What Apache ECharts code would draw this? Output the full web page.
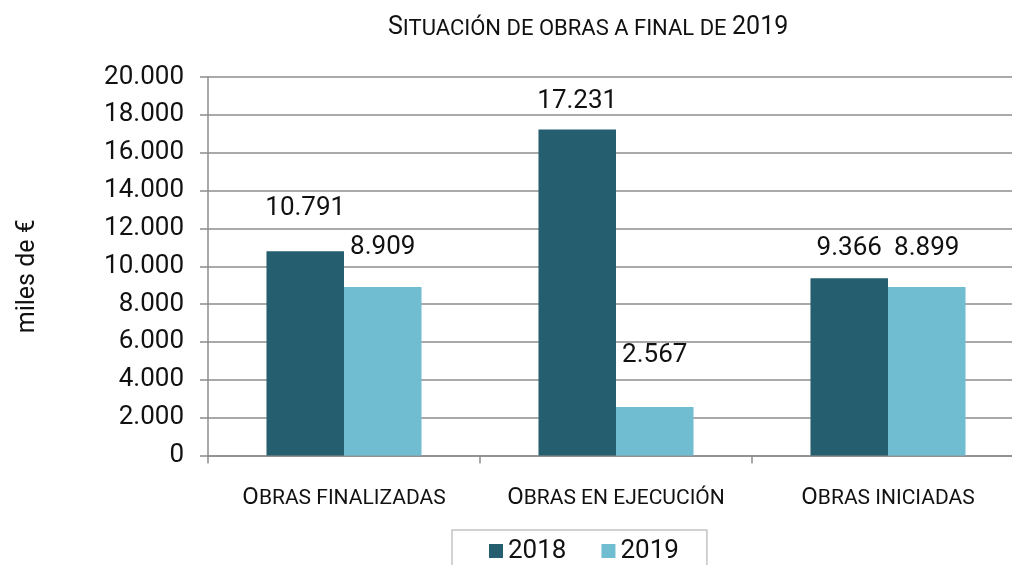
<!DOCTYPE html>
<html>
<head>
<meta charset="utf-8">
<script src="https://cdn.jsdelivr.net/npm/echarts@6/dist/echarts.min.js"></script>
<style>
  html, body { margin: 0; padding: 0; background: #fff; }
  #chart { width: 1012px; height: 565px; }
</style>
</head>
<body>
<div id="chart"></div>
<script>
// Chart data
const chartTitle = 'Situación de obras a final de 2019';
const categories = ['Obras finalizadas', 'Obras en ejecución', 'Obras iniciadas'];
const seriesNames = ['2018', '2019'];
const values2018 = [10791, 17231, 9366];
const values2019 = [8909, 2567, 8899];
const yAxisName = 'miles de €';

// Distance (px) from each bar's top to the centre of its value label
const labelLift2018 = [43, 28, 30];
const labelLift2019 = [39, 51, 39];

const FONT = 'Roboto';
const INK = '#111111';
const GRID_GREY = '#8c8c8c';
const NUM_SIZE = 26;
const LABEL_LINE = 28;

// Spanish thousands separator: 17231 -> "17.231"
function fmt(v) {
  return String(v).replace(/\B(?=(\d{3})+(?!\d))/g, '.');
}

// Small-caps emulation with rich text: capitals and digits full size,
// lowercase letters drawn as smaller capitals.
function smallCaps(text, bigKey, smallKey) {
  let out = '';
  let run = '';
  let runKey = null;
  for (const ch of text) {
    const isBig = ch !== ch.toLowerCase() || /\d/.test(ch);
    const key = isBig ? bigKey : smallKey;
    const c = isBig ? ch : ch.toUpperCase();
    if (runKey !== null && key !== runKey) {
      out += '{' + runKey + '|' + run + '}';
      run = '';
    }
    runKey = key;
    run += c;
  }
  if (run) out += '{' + runKey + '|' + run + '}';
  return out;
}

function capsStyles(bigSize, smallSize) {
  return {
    big: { fontFamily: FONT, fontSize: bigSize, lineHeight: bigSize, color: INK, verticalAlign: 'bottom' },
    small: { fontFamily: FONT, fontSize: smallSize, lineHeight: smallSize, color: INK, verticalAlign: 'bottom' }
  };
}

function barData(values, lifts) {
  return values.map((v, i) => ({
    value: v,
    label: { distance: lifts[i] - LABEL_LINE / 2 }
  }));
}

const valueLabel = {
  show: true,
  position: 'top',
  formatter: p => fmt(p.value),
  fontFamily: FONT,
  fontSize: NUM_SIZE,
  lineHeight: LABEL_LINE,
  color: INK
};

const chart = echarts.init(document.getElementById('chart'), null, { renderer: 'canvas' });

chart.setOption({
  animation: false,
  backgroundColor: '#ffffff',
  title: {
    text: smallCaps(chartTitle, 'big', 'small'),
    left: 388,
    top: 15,
    padding: 0,
    textStyle: {
      fontFamily: FONT,
      fontSize: 25,
      fontWeight: 'normal',
      color: INK,
      rich: capsStyles(25, 22)
    }
  },
  legend: {
    data: seriesNames,
    left: 452,
    top: 530,
    orient: 'horizontal',
    padding: [8, 28, 30, 37],
    itemGap: 35,
    itemWidth: 14,
    itemHeight: 14,
    icon: 'rect',
    borderColor: '#c4c4c4',
    borderWidth: 1.5,
    borderRadius: 0,
    textStyle: { fontFamily: FONT, fontSize: NUM_SIZE, color: INK }
  },
  grid: {
    left: 208,
    top: 77,
    width: 816,
    height: 378.5,
    containLabel: false,
    outerBoundsMode: 'none'
  },
  xAxis: {
    type: 'category',
    data: categories,
    axisLine: { show: true, lineStyle: { color: GRID_GREY, width: 1.5 } },
    axisTick: { show: true, length: 8, lineStyle: { color: GRID_GREY, width: 1.5 } },
    axisLabel: {
      margin: 30,
      interval: 0,
      formatter: v => smallCaps(v, 'big', 'small'),
      rich: capsStyles(24, 21)
    },
    splitLine: { show: false }
  },
  yAxis: {
    type: 'value',
    min: 0,
    max: 20000,
    interval: 2000,
    name: yAxisName,
    nameLocation: 'middle',
    nameRotate: 90,
    nameGap: 168,
    nameTextStyle: {
      fontFamily: FONT,
      fontSize: 25,
      color: INK,
      padding: [0, 20, 0, 0]
    },
    axisLine: { show: true, lineStyle: { color: GRID_GREY, width: 1.5 } },
    axisTick: { show: true, length: 8, lineStyle: { color: GRID_GREY, width: 1.5 } },
    axisLabel: {
      margin: 24,
      fontFamily: FONT,
      fontSize: NUM_SIZE,
      color: INK,
      formatter: v => fmt(v)
    },
    splitLine: { show: true, lineStyle: { color: GRID_GREY, width: 1.5 } }
  },
  series: [
    {
      name: seriesNames[0],
      type: 'bar',
      data: barData(values2018, labelLift2018),
      barGap: '0%',
      barCategoryGap: '43%',
      itemStyle: { color: '#255f6f' },
      label: valueLabel
    },
    {
      name: seriesNames[1],
      type: 'bar',
      data: barData(values2019, labelLift2019),
      barGap: '0%',
      barCategoryGap: '43%',
      itemStyle: { color: '#70bcd1' },
      label: valueLabel
    }
  ]
});
</script>
</body>
</html>
